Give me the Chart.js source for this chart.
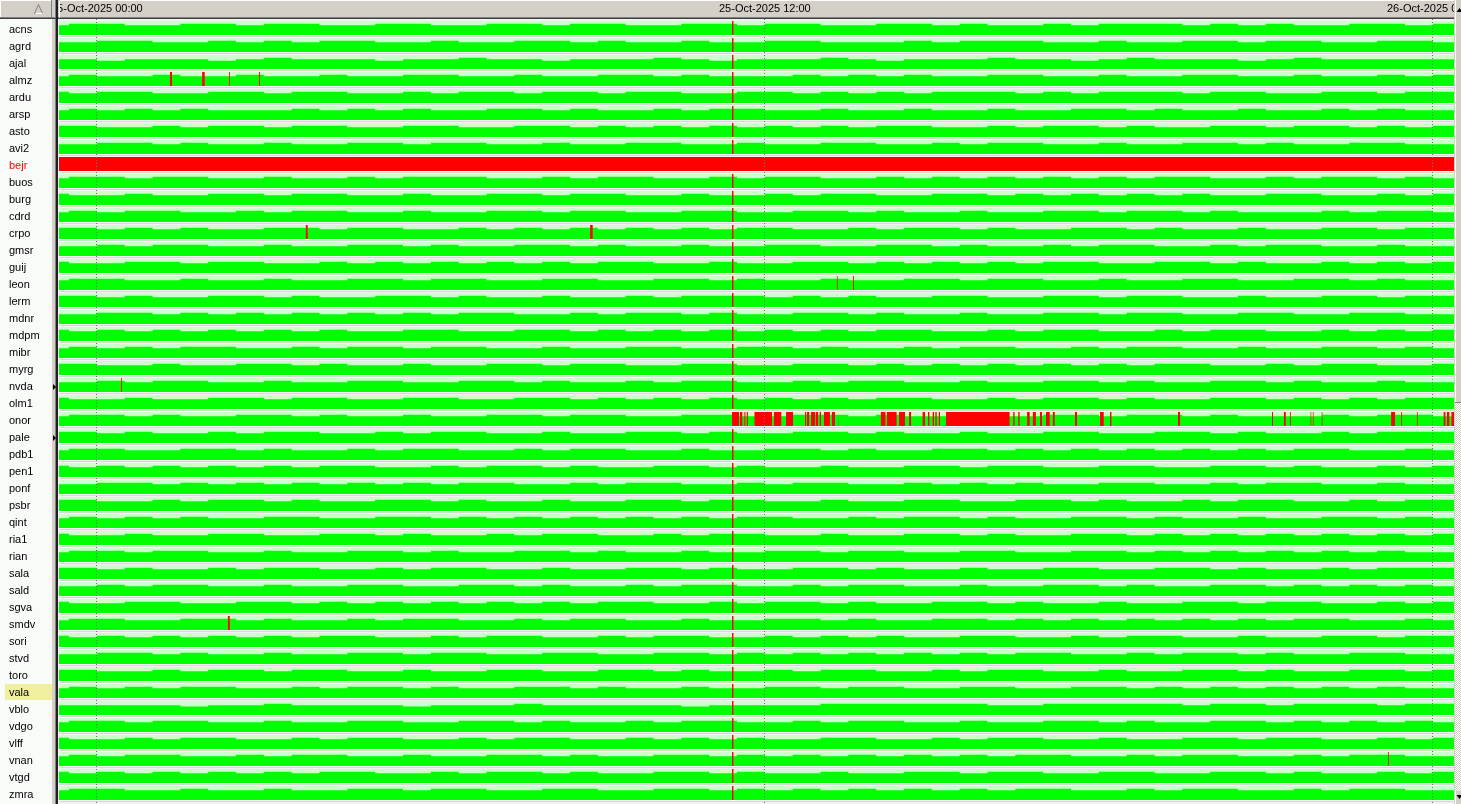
<!DOCTYPE html>
<html>
<head>
<meta charset="utf-8">
<title>Station availability 25-Oct-2025</title>
<script src="https://cdn.jsdelivr.net/npm/chart.js@4/dist/chart.umd.min.js"></script>
<style>
  html, body { margin: 0; padding: 0; background: #ffffff; overflow: hidden; }
</style>
</head>
<body>
<canvas id="availChart" width="1461" height="804"></canvas>
<script>
/* stations, top to bottom */
var stations = ['acns', 'agrd', 'ajal', 'almz', 'ardu', 'arsp', 'asto', 'avi2', 'bejr', 'buos',
  'burg', 'cdrd', 'crpo', 'gmsr', 'guij', 'leon', 'lerm', 'mdnr', 'mdpm', 'mibr',
  'myrg', 'nvda', 'olm1', 'onor', 'pale', 'pdb1', 'pen1', 'ponf', 'psbr', 'qint',
  'ria1', 'rian', 'sala', 'sald', 'sgva', 'smdv', 'sori', 'stvd', 'toro', 'vala',
  'vblo', 'vdgo', 'vlff', 'vnan', 'vtgd', 'zmra']
var selectedStation = 'vala'
var alarmStation = 'bejr'
var markedStations = ['nvda', 'pale']

/* time axis, hours from 25-Oct-2025 00:00 */
var tickHours = [0, 12, 24]
var tickLabels = ['25-Oct-2025 00:00', '25-Oct-2025 12:00', '26-Oct-2025 00:00']
var viewStart = -0.68
var viewEnd = 24.38

/* data availability per half hour, first bin 24-Oct 23:00,
   one digit per bin: d means (d+1)*10 percent, 0 = no data */
var binStart = -1
var binHours = 0.5
var availability = [
  '67766 77677 66776 67767 76677 67766 77676 67677 76767 66776 7', // acns
  '66776 67676 77667 66776 76676 67766 67677 76676 67767 76677 6', // agrd
  '66566 65676 66566 76656 66765 66676 56667 66567 66656 76666 6', // ajal
  '67667 66766 76677 66766 77676 66767 67667 76676 67766 76676 7', // almz
  '76776 67767 76676 77677 67766 77676 76777 67677 76776 67767 7', // ardu
  '67676 76667 67676 67767 66767 76676 67667 66776 76676 67676 6', // arsp
  '77667 67767 76677 66776 76767 67676 77667 67767 66776 77676 7', // asto
  '66776 76676 67767 76676 67766 76677 66767 76676 67767 66776 6', // avi2
  '00000 00000 00000 00000 00000 00000 00000 00000 00000 00000 0', // bejr
  '67767 76676 67677 76676 77667 67766 76767 67676 77667 67767 6', // buos
  '76676 67767 76676 67767 76676 67677 66776 76767 67667 76676 7', // burg
  '67677 66767 76676 67767 76677 66776 76676 67767 76766 67677 6', // cdrd
  '77676 76677 67766 76767 67676 77667 67767 66776 76676 67767 7', // crpo
  '66767 76676 67767 66776 76676 67766 77676 67677 66767 76676 6', // gmsr
  '76677 67766 76767 67676 77667 66776 76767 67766 77676 67676 7', // guij
  '67766 76676 67767 76677 66776 76676 67767 76676 67766 77676 6', // leon
  '77676 67767 66776 76676 67677 76767 66776 67767 76676 67767 7', // lerm
  '66776 76767 67676 77667 67767 66776 76676 67767 76677 66776 6', // mdnr
  '76767 67676 76677 66776 76767 67676 77667 67766 76776 67676 7', // mdpm
  '67676 77667 67767 76676 67766 77676 67677 66767 76676 67767 6', // mibr
  '77667 66776 76676 67767 76677 66776 76767 67676 77667 67766 7', // myrg
  '66767 76676 67766 77676 67677 66767 76676 67767 66776 76676 6', // nvda
  '76676 67767 76677 66776 76767 67676 77667 67767 66776 76767 7', // olm1
  '67767 66776 76676 67767 76677 66776 76676 67767 76766 67677 6', // onor
  '77676 67677 66767 76676 67767 66776 76676 67766 77676 67677 7', // pale
  '67766 77676 67677 66767 76676 67767 66776 76767 67676 77667 6', // pdb1
  '76767 67676 77667 67767 66776 76676 67767 76677 66776 76676 7', // pen1
  '66776 76767 67676 77667 67766 76776 67676 76677 66767 76676 6', // ponf
  '77667 67767 66776 76676 67767 76676 67766 77676 67677 66767 7', // psbr
  '67676 76677 66776 76767 67676 77667 67767 66776 76676 67767 6', // qint
  '76676 67766 77676 67677 66767 76676 67767 66776 76767 67676 7', // ria1
  '67767 76676 67767 66776 76676 67767 76677 66776 76767 67676 6', // rian
  '77676 67677 66767 76676 67767 66776 76676 67766 77676 67677 7', // sala
  '66767 76676 67766 77676 67677 66767 76676 67767 66776 76767 6', // sald
  '76677 66776 76767 67676 77667 67767 66776 76676 67767 76676 7', // sgva
  '67766 77676 67677 66767 76676 67767 66776 76767 67676 77667 6', // smdv
  '76767 67676 77667 67766 76776 67676 76677 66767 76676 67767 7', // sori
  '66776 76676 67767 76677 66776 76767 67676 77667 67767 66776 6', // stvd
  '77667 67767 76676 67766 77676 67677 66767 76676 67767 66776 7', // toro
  '67676 77667 67767 66776 76676 67767 76677 66776 76767 67676 6', // vala
  '66666 56676 66656 66766 66656 66677 77776 67777 76776 77767 7', // vblo
  '67767 76676 67766 77676 67677 66767 76676 67767 66776 76767 6', // vdgo
  '76676 77667 67766 76776 67676 76677 66767 76676 67767 76676 7', // vlff
  '67677 66767 76676 67767 66776 76767 67676 77667 67766 76776 6', // vnan
  '76767 67676 77667 67767 66776 76676 67767 76677 66776 76676 7', // vtgd
  '67766 76676 67767 76677 66776 76767 67676 77667 67766 76776 6'  // zmra
]

/* outages [from, to] in hours */
var commonGap = [11.41, 11.44]
var gaps = {
  almz: [[1.31, 1.35], [1.89, 1.94], [2.37, 2.39], [2.91, 2.93]],
  bejr: [[-1, 24.5]],
  crpo: [[3.75, 3.79], [8.86, 8.91]],
  leon: [[13.29, 13.31], [13.58, 13.60]],
  nvda: [[0.43, 0.45]],
  onor: [[11.42, 11.54], [11.55, 11.60], [11.62, 11.64], [11.65, 11.67], [11.68, 11.70],
    [11.81, 12.13], [12.16, 12.30], [12.38, 12.51], [12.72, 12.74], [12.75, 12.80],
    [12.83, 12.90], [12.91, 12.96], [12.98, 13.01], [13.06, 13.17], [13.20, 13.26],
    [13.32, 13.33], [14.08, 14.17], [14.19, 14.37], [14.41, 14.52], [14.59, 14.63],
    [14.83, 14.88], [14.93, 14.96], [15.01, 15.04], [15.06, 15.09], [15.12, 15.15],
    [15.25, 16.40], [16.46, 16.49], [16.55, 16.58], [16.71, 16.76], [16.81, 16.87],
    [16.94, 16.98], [17.05, 17.12], [17.17, 17.21], [17.57, 17.61], [18.02, 18.09],
    [18.20, 18.23], [19.42, 19.46], [21.11, 21.13], [21.32, 21.36], [21.43, 21.45],
    [21.80, 21.82], [21.84, 21.86], [22.00, 22.02], [23.25, 23.32], [23.43, 23.45],
    [23.71, 23.73], [24.19, 24.23], [24.25, 24.30], [24.33, 24.40]],
  smdv: [[2.35, 2.39]],
  vnan: [[23.19, 23.21]]
}

var BAND = 14 / 17   // height of a row band, in row units
var FONT = { family: "'Liberation Sans', Arial, sans-serif", size: 11 }
var clear = 'rgba(0,0,0,0)'

/* one band, one availability area and one outage area per station */
var datasets = []
stations.forEach(function (name, i) {
  var bottom = i + BAND

  datasets.push({
    label: name,
    data: [{ x: binStart, y: i }, { x: binStart + 51 * binHours, y: i }],
    backgroundColor: '#ccffcc',
    fill: { value: bottom },
    order: 3
  })

  var levels = availability[i].replace(/ /g, '').split('').map(Number)
  var pts = levels.map(function (d, k) {
    var pct = d ? (d + 1) * 10 : 0
    return { x: binStart + k * binHours, y: bottom - BAND * pct / 100 }
  })
  pts.push({ x: binStart + levels.length * binHours, y: pts[pts.length - 1].y })
  datasets.push({
    label: name + ' ok',
    data: pts,
    stepped: 'before',
    backgroundColor: '#00ff00',
    fill: { value: bottom },
    order: 2
  })

  var list = [commonGap].concat(gaps[name] || [])
  list.sort(function (a, b) { return a[0] - b[0] })
  var gp = []
  list.forEach(function (g) {
    gp.push({ x: g[0], y: i }, { x: g[1], y: i }, { x: g[1], y: null })
  })
  datasets.push({
    label: name + ' gap',
    data: gp,
    backgroundColor: '#ff0000',
    fill: { value: bottom },
    spanGaps: false,
    order: 1
  })
})

/* window chrome: list panel, header strip, splitter, scroll bar */
var chrome = {
  id: 'chrome',
  beforeDraw: function (chart) {
    var ctx = chart.ctx, a = chart.chartArea, ys = chart.scales.y
    var W = chart.width, H = chart.height
    ctx.save()
    ctx.fillStyle = '#f9fbf9'
    ctx.fillRect(0, 0, W, H)
    // plot background and row separators
    ctx.fillStyle = '#f2f2f2'
    ctx.fillRect(a.left, a.top, a.right - a.left, a.bottom - a.top)
    stations.forEach(function (s, i) {
      var yb = Math.round(ys.getPixelForValue(i + BAND))
      ctx.fillStyle = '#ffffff'
      ctx.fillRect(a.left, yb, a.right - a.left, 1)
      ctx.fillStyle = '#d8d8d8'
      ctx.fillRect(a.left, yb + 1, a.right - a.left, 1)
    })
    // selected station
    var si = stations.indexOf(selectedStation)
    var y0 = Math.round(ys.getPixelForValue(si)), y1 = Math.round(ys.getPixelForValue(si + 1))
    ctx.fillStyle = '#efef9f'
    ctx.fillRect(5, y0, 47, y1 - y0 - 1)
    // header strip
    ctx.fillStyle = '#d4d0c8'
    ctx.fillRect(0, 0, W, 18)
    ctx.fillStyle = '#808080'
    ctx.fillRect(0, 17, W, 1)
    ctx.fillStyle = '#404040'
    ctx.fillRect(0, 18, W, 1)
    ctx.fillStyle = '#ffffff'
    ctx.fillRect(a.left, 0, W, 1)
    // splitter
    ctx.fillStyle = '#d4d0c8'
    ctx.fillRect(52, 0, 4, H)
    ctx.fillStyle = '#808080'
    ctx.fillRect(55, 0, 1, H)
    ctx.fillStyle = '#202020'
    ctx.fillRect(56, 0, 2, H)
    ctx.restore()
  },
  afterDraw: function (chart) {
    var ctx = chart.ctx, a = chart.chartArea, ys = chart.scales.y
    var W = chart.width, H = chart.height
    ctx.save()
    // list header cell and splitter top, hide the overflow of the first date label
    ctx.fillStyle = '#d4d0c8'
    ctx.fillRect(0, 0, a.left + 1, 18)
    ctx.fillStyle = '#ffffff'
    ctx.fillRect(0, 0, 52, 1)
    ctx.fillRect(0, 0, 1, 17)
    ctx.fillRect(a.left, 1, 1, 16)
    ctx.fillStyle = '#808080'
    ctx.fillRect(0, 17, a.left, 1)
    ctx.fillRect(51, 0, 1, 17)
    ctx.fillRect(55, 0, 1, 18)
    ctx.fillStyle = '#202020'
    ctx.fillRect(56, 0, 2, 19)
    ctx.fillStyle = '#404040'
    ctx.fillRect(0, 18, 56, 1)
    ctx.strokeStyle = '#808080'
    ctx.lineWidth = 1
    ctx.beginPath()
    ctx.moveTo(34.5, 13.5)
    ctx.lineTo(38.5, 4.5)
    ctx.lineTo(42.5, 13.5)
    ctx.closePath()
    ctx.stroke()
    ctx.strokeStyle = '#ffffff'
    ctx.beginPath()
    ctx.moveTo(35.5, 13.5)
    ctx.lineTo(42.5, 13.5)
    ctx.stroke()
    // marker arrows in the splitter
    ctx.fillStyle = '#000000'
    markedStations.forEach(function (s) {
      var yc = Math.round(ys.getPixelForValue(stations.indexOf(s) + 0.5))
      ctx.beginPath()
      ctx.moveTo(53, yc - 3)
      ctx.lineTo(56, yc)
      ctx.lineTo(53, yc + 3)
      ctx.closePath()
      ctx.fill()
    })
    // vertical scroll bar
    var sx = a.right
    ctx.fillStyle = '#d4d0c8'
    ctx.fillRect(sx, 0, W - sx, H)
    ctx.fillStyle = '#ffffff'
    ctx.fillRect(sx + 1, 0, 1, H)
    var pat = document.createElement('canvas')
    pat.width = 2; pat.height = 2
    var pc = pat.getContext('2d')
    pc.fillStyle = '#ffffff'; pc.fillRect(0, 0, 2, 2)
    pc.fillStyle = '#d4d0c8'; pc.fillRect(0, 0, 1, 1); pc.fillRect(1, 1, 1, 1)
    ctx.fillStyle = ctx.createPattern(pat, 'repeat')
    ctx.fillRect(sx + 1, 403, W - sx - 1, 388)
    ctx.fillStyle = '#808080'
    ctx.fillRect(sx + 1, 402, W - sx, 1)
    ctx.fillStyle = '#000000'
    ctx.beginPath()
    ctx.moveTo(sx + 2.5, 12)
    ctx.lineTo(sx + 5.5, 8)
    ctx.lineTo(sx + 8.5, 12)
    ctx.closePath()
    ctx.fill()
    ctx.beginPath()
    ctx.moveTo(sx + 2.5, 795)
    ctx.lineTo(sx + 5.5, 799)
    ctx.lineTo(sx + 8.5, 795)
    ctx.closePath()
    ctx.fill()
    ctx.restore()
  }
}

new Chart(document.getElementById('availChart'), {
  type: 'line',
  data: { datasets: datasets },
  options: {
    responsive: false,
    devicePixelRatio: 1,
    animation: false,
    events: [],
    layout: { padding: { left: 9, right: 7, top: 0, bottom: 0 } },
    elements: {
      point: { radius: 0, hoverRadius: 0 },
      line: { borderWidth: 0, borderColor: clear, tension: 0 }
    },
    plugins: {
      legend: { display: false },
      tooltip: { enabled: false },
      title: { display: false }
    },
    scales: {
      x: {
        type: 'linear',
        position: 'top',
        min: viewStart,
        max: viewEnd,
        afterBuildTicks: function (s) {
          s.ticks = tickHours.map(function (v) { return { value: v } })
        },
        afterFit: function (s) {
          s.height = 19
          s.paddingLeft = 0
          s.paddingRight = 0
        },
        ticks: {
          callback: function (v, i) { return tickLabels[i] },
          font: FONT,
          color: '#000000',
          padding: 3,
          maxRotation: 0,
          autoSkip: false
        },
        grid: { drawTicks: false, color: '#707070', lineWidth: 1, z: 1 },
        border: { display: false, dash: [1, 2] }
      },
      y: {
        type: 'linear',
        reverse: true,
        min: -0.12,
        max: 46.06,
        afterBuildTicks: function (s) {
          s.ticks = stations.map(function (n, i) { return { value: i + 0.5 } })
        },
        afterFit: function (s) {
          s.width = 50
          s.paddingTop = 0
          s.paddingBottom = 0
        },
        ticks: {
          callback: function (v, i) { return stations[i] },
          font: FONT,
          color: function (c) { return stations[c.index] === alarmStation ? '#ff0000' : '#000000' },
          crossAlign: 'far',
          padding: 0,
          autoSkip: false
        },
        grid: { display: false },
        border: { display: false }
      }
    }
  },
  plugins: [chrome]
})
</script>
</body>
</html>
